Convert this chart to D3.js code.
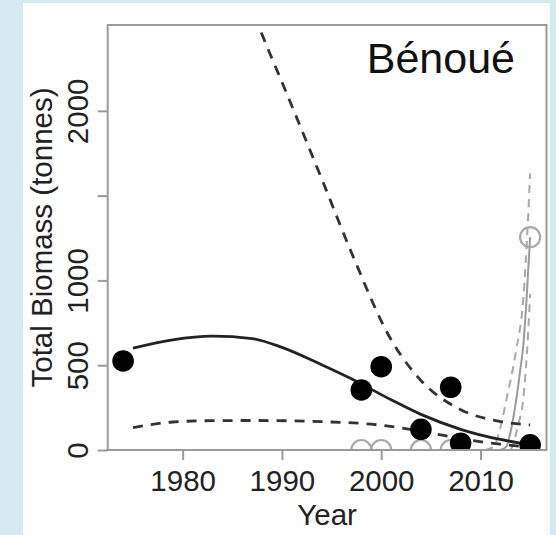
<!DOCTYPE html>
<html>
<head>
<meta charset="utf-8">
<script src="https://cdn.jsdelivr.net/npm/d3@7"></script>
<style>
  html, body { margin: 0; padding: 0; background: #d5e9f1; }
  svg { display: block; }
</style>
</head>
<body>
<svg id="chart" width="556" height="535"></svg>
<script>
// ---- Data ----
const obsYears   = [1974, 1998, 2000, 2004, 2007, 2008, 2015];
const obsValues  = [525, 354, 491, 122, 370, 40, 30];

const grayYears  = [1998, 2000, 2004, 2007, 2015];
const grayValues = [0, 0, 0, 0, 1255];

const fitYears   = [1975, 1979, 1983, 1987, 1990, 1994, 1997, 2001, 2004, 2008, 2012, 2015];
const fitValues  = [601, 650, 671, 657, 605, 503, 420, 296, 210, 122, 62, 32];

const upperYears  = [1986, 1988, 1990, 1994, 1997, 2001, 2004, 2008, 2012, 2015];
const upperValues = [2760, 2450, 2170, 1600, 1165, 650, 410, 238, 168, 148];

const lowerYears  = [1975, 1979, 1983, 1987, 1991, 1994, 1999, 2002, 2005, 2008, 2012, 2015];
const lowerValues = [132, 165, 173, 174, 172, 167, 152, 130, 100, 67, 34, 18];

const grayFitYears   = [2012, 2012.6, 2013, 2013.6, 2014, 2014.3, 2014.6, 2015];
const grayFitValues  = [0, 20, 100, 295, 470, 609, 850, 1255];

const grayUpYears    = [2010.5, 2011.3, 2012, 2012.6, 2013.6, 2014.3, 2014.8, 2015];
const grayUpValues   = [0, 20, 130, 295, 590, 884, 1375, 1630];

const grayLowYears   = [2013, 2013.2, 2013.8, 2014.3, 2014.8, 2015];
const grayLowValues  = [0, 20, 150, 295, 690, 920];

const xTicks = [1980, 1990, 2000, 2010];
const yTicks = [0, 500, 1000, 1500, 2000];
const yTickLabels = ["0", "500", "1000", "", "2000"];

const titleText = "Bénoué";
const xLabel = "Year";
const yLabel = "Total Biomass (tonnes)";

// ---- Layout ----
const svg = d3.select("#chart");
const FONT = "'Liberation Sans', Arial, Helvetica, sans-serif";
const pL = 107.7, pR = 546.5, pT = 25, pB = 450;

svg.append("rect").attr("x", 23).attr("y", 3).attr("width", 527).attr("height", 532).attr("fill", "#ffffff");

const x = d3.scaleLinear().domain([1972.45, 2016.65]).range([pL, pR]);
const y = d3.scaleLinear().domain([0, 2506]).range([pB, pT]);

svg.append("defs").append("clipPath").attr("id", "plotclip")
  .append("rect").attr("x", pL).attr("y", pT).attr("width", pR - pL).attr("height", pB - pT);

const plot = svg.append("g").attr("clip-path", "url(#plotclip)");

const line = d3.line().x(d => x(d[0])).y(d => y(d[1])).curve(d3.curveMonotoneX);
const zip = (a, b) => a.map((v, i) => [v, b[i]]);

// gray series lines
plot.append("path").attr("d", line(zip(grayUpYears, grayUpValues)))
  .attr("fill", "none").attr("stroke", "#a8a8a8").attr("stroke-width", 2).attr("stroke-dasharray", "8,6");
plot.append("path").attr("d", line(zip(grayLowYears, grayLowValues)))
  .attr("fill", "none").attr("stroke", "#a8a8a8").attr("stroke-width", 2).attr("stroke-dasharray", "8,6");
plot.append("path").attr("d", line(zip(grayFitYears, grayFitValues)))
  .attr("fill", "none").attr("stroke", "#9a9a9a").attr("stroke-width", 2);

// black series lines
plot.append("path").attr("d", line(zip(upperYears, upperValues)))
  .attr("fill", "none").attr("stroke", "#333").attr("stroke-width", 2.8).attr("stroke-dasharray", "10,8");
plot.append("path").attr("d", line(zip(lowerYears, lowerValues)))
  .attr("fill", "none").attr("stroke", "#333").attr("stroke-width", 2.8).attr("stroke-dasharray", "10,8");
plot.append("path").attr("d", line(zip(fitYears, fitValues)))
  .attr("fill", "none").attr("stroke", "#222").attr("stroke-width", 2.8);

// points
plot.selectAll("circle.gray").data(zip(grayYears, grayValues)).enter().append("circle")
  .attr("class", "gray").attr("cx", d => x(d[0])).attr("cy", d => y(d[1])).attr("r", 10)
  .attr("fill", "none").attr("stroke", "#a8a8a8").attr("stroke-width", 2.2);
plot.selectAll("circle.obs").data(zip(obsYears, obsValues)).enter().append("circle")
  .attr("class", "obs").attr("cx", d => x(d[0])).attr("cy", d => y(d[1])).attr("r", 10.8)
  .attr("fill", "#000");

// box
svg.append("rect").attr("x", pL).attr("y", pT).attr("width", pR - pL).attr("height", pB - pT)
  .attr("fill", "none").attr("stroke", "#9a9a9a").attr("stroke-width", 2);

// axes
const xAxis = svg.append("g").attr("transform", `translate(0,${pB})`)
  .call(d3.axisBottom(x).tickValues(xTicks).tickFormat(d3.format("d")).tickSize(10).tickSizeOuter(0).tickPadding(8));
xAxis.select(".domain").remove();
xAxis.selectAll("line").attr("stroke", "#9a9a9a").attr("stroke-width", 2);
xAxis.selectAll("text").attr("font-family", FONT).attr("font-size", 29.5).attr("fill", "#222")
  .attr("dy", null).attr("y", 41);

const yAxis = svg.append("g").attr("transform", `translate(${pL},0)`)
  .call(d3.axisLeft(y).tickValues(yTicks).tickFormat((d, i) => yTickLabels[i]).tickSize(10).tickSizeOuter(0));
yAxis.select(".domain").remove();
yAxis.selectAll("line").attr("stroke", "#9a9a9a").attr("stroke-width", 2);
yAxis.selectAll("text").attr("font-family", FONT).attr("font-size", 29.5).attr("fill", "#222")
  .attr("transform", "rotate(-90)").attr("x", 0).attr("dy", null).attr("y", -19.5)
  .attr("text-anchor", "middle");

// labels
svg.append("text").attr("x", (pL + pR) / 2).attr("y", 525).attr("text-anchor", "middle")
  .attr("font-family", FONT).attr("font-size", 29.5).attr("fill", "#222").text(xLabel);
svg.append("text").attr("transform", `translate(52,${(pT + pB) / 2}) rotate(-90)`).attr("text-anchor", "middle")
  .attr("font-family", FONT).attr("font-size", 29.5).attr("fill", "#222").text(yLabel);
svg.append("text").attr("x", 515).attr("y", 73).attr("text-anchor", "end")
  .attr("font-family", FONT).attr("font-size", 43).attr("fill", "#111").text(titleText);
</script>
</body>
</html>
